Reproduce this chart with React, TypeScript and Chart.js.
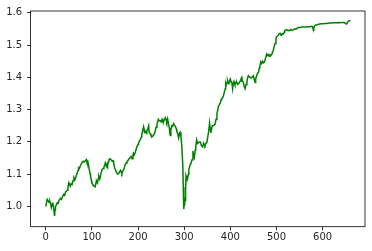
import React, { useEffect, useRef } from "react";
import { Chart, registerables } from "chart.js";

Chart.register(...registerables);

const steps: number[] = [
  0, 2, 3, 5, 7, 9, 11, 12, 14, 15, 17, 19, 20, 21, 23, 25, 27, 29, 32, 34, 36, 39, 41, 43, 45, 47, 48, 50, 52, 53, 55, 57, 59, 61, 63, 64, 66, 68, 70, 71, 73, 75, 77, 79, 81, 83, 86, 88, 89, 91, 93, 94, 96, 97, 99,
  100, 102, 104, 106, 107, 109, 110, 112, 114, 115, 117, 118, 120, 122, 124, 126, 128, 129, 131, 133, 134, 136, 137, 139, 140, 142, 144, 146, 147, 149, 151, 153, 154, 156, 158, 160, 162, 164, 165, 167, 169, 171, 172, 174, 176, 178, 180, 182, 183, 185, 187, 189, 190, 192, 194, 196, 198,
  200, 201, 203, 205, 207, 208, 210, 212, 213, 214, 216, 218, 219, 221, 223, 224, 226, 228, 230, 232, 234, 236, 237, 239, 241, 243, 244, 246, 248, 250, 252, 254, 255, 257, 259, 261, 262, 264, 266, 268, 269, 270, 271, 273, 275, 277, 279, 281, 283, 284, 286, 288, 290, 291, 293, 295, 297, 298, 299,
  300, 301, 302, 303, 304, 305, 307, 309, 310, 312, 313, 315, 317, 319, 320, 322, 324, 325, 327, 329, 331, 333, 335, 337, 338, 340, 342, 344, 345, 347, 349, 351, 353, 355, 356, 358, 360, 361, 363, 365, 367, 369, 371, 373, 374, 376, 378, 380, 381, 383, 385, 387, 389, 390, 391, 393, 394, 396, 397, 399,
  400, 402, 403, 405, 406, 408, 410, 411, 413, 414, 416, 418, 420, 421, 423, 425, 426, 428, 430, 432, 434, 436, 437, 439, 441, 443, 445, 446, 448, 450, 452, 454, 455, 457, 459, 461, 463, 464, 466, 468, 470, 472, 474, 475, 477, 479, 481, 482, 484, 486, 488, 490, 492, 493, 495, 497, 499,
  500, 502, 504, 506, 508, 510, 511, 513, 515, 517, 518, 520, 522, 524, 526, 529, 531, 533, 535, 537, 540, 542, 544, 547, 550, 553, 555, 558, 561, 565, 568, 571, 573, 576, 578, 579, 580, 581, 583, 585, 587, 590, 594, 598,
  602, 605, 609, 613, 617, 620, 623, 627, 630, 634, 637, 641, 645, 648, 650, 652, 654, 656, 658, 659,
];

const values: number[] = [
  1.0, 1.015, 1.022, 1.018, 1.012, 1.015, 1.005, 0.997, 1.008, 1.012, 0.995, 0.971, 0.99, 1.0, 1.005, 1.012, 1.01, 1.02, 1.025, 1.022, 1.03, 1.038, 1.035, 1.045, 1.048, 1.05, 1.06, 1.074, 1.068, 1.063, 1.07, 1.068, 1.08, 1.089, 1.083, 1.086, 1.095, 1.104, 1.112, 1.12, 1.118, 1.127, 1.132, 1.137, 1.14, 1.138, 1.142, 1.145, 1.138, 1.14, 1.125, 1.115, 1.103, 1.094, 1.08,
  1.072, 1.068, 1.063, 1.062, 1.061, 1.075, 1.079, 1.073, 1.088, 1.094, 1.085, 1.09, 1.105, 1.114, 1.118, 1.122, 1.13, 1.135, 1.125, 1.132, 1.128, 1.14, 1.145, 1.148, 1.147, 1.144, 1.14, 1.142, 1.137, 1.12, 1.114, 1.105, 1.104, 1.1, 1.102, 1.108, 1.112, 1.105, 1.102, 1.11, 1.115, 1.124, 1.129, 1.135, 1.14, 1.142, 1.147, 1.15, 1.151, 1.155, 1.148, 1.16, 1.165, 1.16, 1.168, 1.178, 1.187,
  1.192, 1.196, 1.203, 1.207, 1.215, 1.222, 1.235, 1.247, 1.24, 1.23, 1.232, 1.226, 1.234, 1.24, 1.25, 1.23, 1.226, 1.22, 1.215, 1.218, 1.222, 1.228, 1.232, 1.245, 1.256, 1.265, 1.27, 1.265, 1.266, 1.262, 1.27, 1.262, 1.262, 1.268, 1.275, 1.268, 1.262, 1.272, 1.255, 1.242, 1.225, 1.22, 1.235, 1.25, 1.248, 1.257, 1.252, 1.248, 1.24, 1.232, 1.225, 1.212, 1.228, 1.23, 1.215, 1.185, 1.125, 1.06, 0.992,
  1.005, 1.022, 1.018, 1.05, 1.095, 1.09, 1.085, 1.1, 1.114, 1.125, 1.129, 1.135, 1.145, 1.172, 1.16, 1.152, 1.175, 1.185, 1.206, 1.195, 1.198, 1.2, 1.2, 1.19, 1.188, 1.185, 1.196, 1.19, 1.188, 1.195, 1.198, 1.215, 1.232, 1.258, 1.245, 1.228, 1.245, 1.25, 1.25, 1.252, 1.255, 1.27, 1.288, 1.3, 1.309, 1.315, 1.32, 1.33, 1.334, 1.336, 1.342, 1.355, 1.365, 1.38, 1.375, 1.385, 1.39, 1.38, 1.382, 1.392,
  1.395, 1.385, 1.387, 1.365, 1.378, 1.387, 1.378, 1.38, 1.383, 1.385, 1.378, 1.38, 1.385, 1.388, 1.395, 1.4, 1.39, 1.385, 1.372, 1.365, 1.378, 1.385, 1.395, 1.405, 1.402, 1.4, 1.398, 1.398, 1.402, 1.405, 1.392, 1.384, 1.395, 1.405, 1.412, 1.416, 1.43, 1.435, 1.448, 1.443, 1.45, 1.445, 1.447, 1.447, 1.462, 1.472, 1.468, 1.47, 1.465, 1.47, 1.468, 1.472, 1.48, 1.483, 1.495, 1.505, 1.52,
  1.525, 1.528, 1.53, 1.535, 1.536, 1.53, 1.534, 1.535, 1.534, 1.54, 1.545, 1.547, 1.548, 1.545, 1.546, 1.545, 1.548, 1.546, 1.545, 1.548, 1.55, 1.549, 1.551, 1.554, 1.554, 1.555, 1.556, 1.556, 1.556, 1.556, 1.557, 1.557, 1.557, 1.558, 1.557, 1.552, 1.546, 1.553, 1.56, 1.562, 1.562, 1.564, 1.565, 1.566,
  1.566, 1.567, 1.567, 1.568, 1.568, 1.568, 1.569, 1.569, 1.569, 1.57, 1.569, 1.57, 1.57, 1.569, 1.566, 1.565, 1.57, 1.574, 1.575, 1.577,
];

const xTicks: number[] = [0, 100, 200, 300, 400, 500, 600];
const yTicks: number[] = [1.0, 1.1, 1.2, 1.3, 1.4, 1.5, 1.6];

const frame = {
  id: "frame",
  afterDraw(chart: any) {
    const { ctx, chartArea: a } = chart;
    ctx.save();
    ctx.strokeStyle = "#000";
    ctx.lineWidth = 0.8;
    ctx.strokeRect(a.left, a.top, a.right - a.left, a.bottom - a.top);
    ctx.restore();
  },
};

export default function App() {
  const ref = useRef<HTMLCanvasElement>(null);
  useEffect(() => {
    if (!ref.current) return;
    const font = { family: "DejaVu Sans", size: 10 };
    const chart = new Chart(ref.current, {
      type: "line",
      data: {
        datasets: [
          {
            data: steps.map((s, i) => ({ x: s, y: values[i] })),
            borderColor: "#008000",
            borderWidth: 1.5,
            pointRadius: 0,
            tension: 0,
            fill: false,
          },
        ],
      },
      options: {
        animation: false,
        responsive: false,
        maintainAspectRatio: false,
        devicePixelRatio: 1,
        layout: { padding: { top: 10, right: 7, left: 0, bottom: 0 } },
        plugins: { legend: { display: false }, tooltip: { enabled: false } },
        scales: {
          x: {
            type: "linear",
            min: -32.95,
            max: 691.95,
            afterBuildTicks: (s: any) => {
              s.ticks = xTicks.map((v) => ({ value: v }));
            },
            afterFit: (s: any) => {
              s.height = 24.3;
            },
            grid: { drawOnChartArea: false, tickLength: 3.5, tickColor: "#000", tickWidth: 0.8 },
            border: { display: false },
            ticks: { font, color: "#262626", padding: 1.5, maxRotation: 0, callback: (v: any) => String(v) },
          },
          y: {
            type: "linear",
            min: 0.9374,
            max: 1.6054,
            afterBuildTicks: (s: any) => {
              s.ticks = yTicks.map((v) => ({ value: v }));
            },
            afterFit: (s: any) => {
              s.width = 30.6;
            },
            grid: { drawOnChartArea: false, tickLength: 3.5, tickColor: "#000", tickWidth: 0.8 },
            border: { display: false },
            ticks: { font, color: "#262626", padding: 5, callback: (v: any) => Number(v).toFixed(1) },
          },
        },
      },
      plugins: [frame],
    });
    return () => chart.destroy();
  }, []);
  return (
    <div style={{ position: "absolute", left: 0, top: 0, width: 372, height: 251, background: "#fff" }}>
      <canvas ref={ref} width={372} height={251} style={{ width: 372, height: 251 }} />
    </div>
  );
}
